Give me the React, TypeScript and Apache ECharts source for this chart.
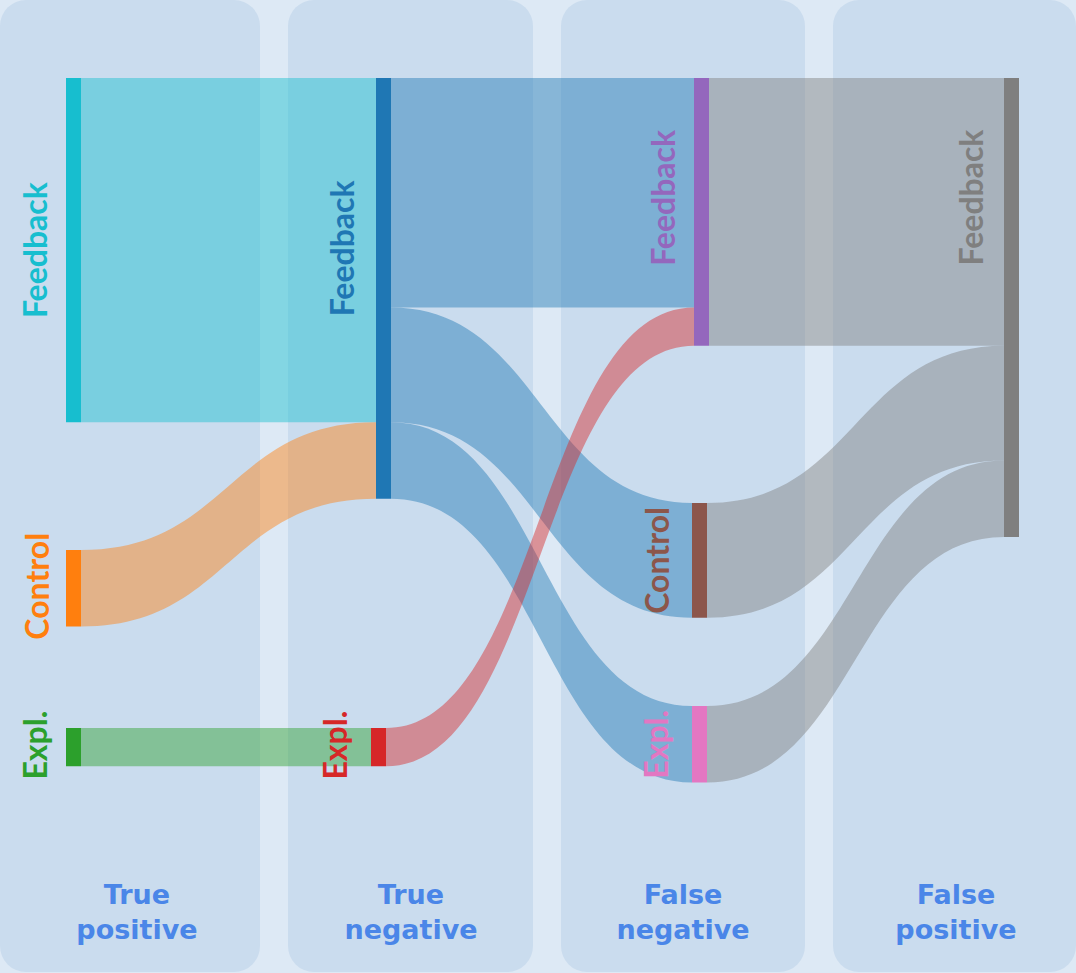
import React, { useEffect, useRef } from "react";
import * as echarts from "echarts";

// ---- data ----
const columnTitles = ["True\npositive", "True\nnegative", "False\nnegative", "False\npositive"];

const nodeNames = [
  "TP Feedback", "TP Control", "TP Expl.",
  "TN Feedback", "TN Expl.",
  "FN Feedback", "FN Control", "FN Expl.",
  "FP Feedback",
];
const nodeLabels = ["Feedback", "Control", "Expl.", "Feedback", "Expl.", "Feedback", "Control", "Expl.", "Feedback"];
const nodeColors = ["#17becf", "#ff7f0e", "#2ca02c", "#1f77b4", "#d62728", "#9467bd", "#8c564b", "#e377c2", "#7f7f7f"];

const linkSources = ["TP Feedback", "TP Control", "TP Expl.", "TN Feedback", "TN Feedback", "TN Feedback", "TN Expl.", "FN Feedback", "FN Control", "FN Expl."];
const linkTargets = ["TN Feedback", "TN Feedback", "TN Expl.", "FN Feedback", "FN Control", "FN Expl.", "FN Feedback", "FP Feedback", "FP Feedback", "FP Feedback"];
const linkValues = [45, 10, 5, 30, 15, 10, 5, 35, 15, 10];
const linkColorBy = ["source", "source", "source", "source", "source", "source", "source", "target", "target", "target"];

// ---- layout (pixels in the 1076 x 973 frame) ----
const W = 1076;
const H = 973;
const nodeLeft = [66, 66, 66, 376, 371, 694, 692, 692, 1004];
const nodeTop = [78, 550, 728, 78, 728, 78, 503, 706, 78];
const labelRaise = [0, 2, 2, 40, 2, 14, 0, 0, 110];
const labelGap = [16, 14, 16, 19, 21, 16, 20, 21, 18];
const panelLeft = [0, 288, 561, 833];
const panelWidth = [260, 245, 244, 243];
const titleCenter = [137, 411, 683, 956];

export default function App() {
  const ref = useRef<HTMLDivElement>(null);
  useEffect(() => {
    if (!ref.current) return;
    const chart = echarts.init(ref.current, undefined, { renderer: "svg" });

    const nodes = nodeNames.map((name, i) => ({
      name,
      localX: nodeLeft[i] / W,
      localY: nodeTop[i] / H,
      itemStyle: { color: nodeColors[i], borderWidth: 0, opacity: 1 },
      label: {
        show: true,
        formatter: nodeLabels[i],
        position: "left",
        rotate: 90,
        align: "center",
        verticalAlign: "bottom",
        distance: labelGap[i],
        offset: [labelRaise[i], 0],
        color: nodeColors[i],
        fontSize: 32,
        fontWeight: "bold",
        fontFamily: "Lato",
      },
    }));

    const links = linkSources.map((s, i) => ({
      source: s,
      target: linkTargets[i],
      value: linkValues[i],
      lineStyle: { color: linkColorBy[i], opacity: 0.45, curveness: 0.5 },
    }));

    const graphics: any[] = [];
    panelLeft.forEach((x, i) => {
      graphics.push({
        type: "rect",
        z: -10,
        silent: true,
        shape: { x, y: 0, width: panelWidth[i], height: 972, r: 26 },
        style: { fill: "#cadcee" },
      });
    });
    columnTitles.forEach((t, i) => {
      graphics.push({
        type: "text",
        z: 10,
        silent: true,
        style: {
          text: t,
          x: titleCenter[i],
          y: 877,
          align: "center",
          verticalAlign: "top",
          fill: "#4a86e8",
          fontSize: 27,
          fontWeight: "bold",
          fontFamily: "DejaVu Sans",
          lineHeight: 35,
        },
      });
    });

    chart.setOption({
      animation: false,
      backgroundColor: "#dde9f5",
      graphic: graphics,
      series: [
        {
          type: "sankey",
          left: 0,
          top: 0,
          width: W,
          height: H,
          nodeWidth: 15,
          nodeGap: 257,
          layoutIterations: 0,
          draggable: false,
          emphasis: { disabled: true },
          data: nodes,
          links,
        },
      ],
    });
    return () => chart.dispose();
  }, []);
  return <div ref={ref} style={{ position: "absolute", left: 0, top: 0, width: W, height: H }} />;
}
